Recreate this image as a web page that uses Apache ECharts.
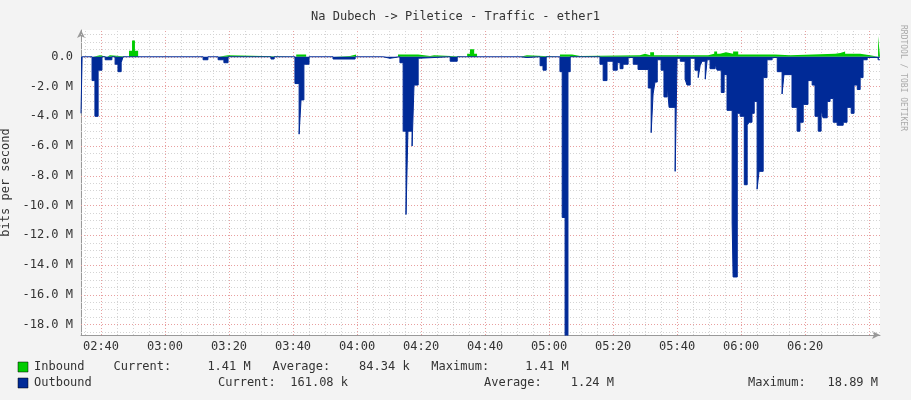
<!DOCTYPE html>
<html><head><meta charset="utf-8">
<script src="https://cdn.jsdelivr.net/npm/echarts@6/dist/echarts.min.js"></script>
<style>html,body{margin:0;padding:0;background:#f3f3f3}#c{width:911px;height:400px}</style>
</head><body><div id="c"></div>
<script>
// time in minutes since 00:00, value in Mbit/s; each point holds until the next
const outbound = [[153.75,-3.8],[154.1,0],[157.2,-1.6],[158.1,-4.0],[159.1,-0.9],[160.3,0],[161.3,-0.2],[163.4,0],[164.4,-0.5],[165.3,-1.0],[166.3,-0.4],[166.9,0],
[191.9,-0.2],[193.4,0],[196.6,-0.2],[198.4,-0.4],[199.7,0],[213.1,-0.15],[214.1,0],
[220.6,-1.8],[221.9,-5.2],[222.5,-2.9],[223.4,-0.5],[225.0,0],[232.5,-0.15],[239.4,0],[248.1,-0.1],[250.3,0],
[253.4,-0.4],[254.4,-5.0],[255.3,-10.6],[255.9,-5.0],[257.2,-6.0],[257.8,-1.9],[259.1,-0.1],[259.7,0],
[269.1,-0.3],[271.3,0],[290.9,-0.05],[293.1,0],[297.2,-0.6],[298.1,-0.9],[299.1,0],
[303.4,-1.0],[304.1,-10.8],[305.0,-18.8],[305.9,-1.0],[306.6,0],
[315.9,-0.5],[316.9,-1.6],[318.1,-0.3],[320.0,-0.9],[321.3,-0.4],[322.2,-0.8],[323.1,-0.5],[324.7,-0.05],[326.3,-0.5],[327.8,-0.85],
[331.0,-2.1],[331.9,-5.1],[332.5,-2.5],[333.1,-1.7],[333.8,-0.2],[335.0,-0.9],[335.9,-2.7],[336.9,-1.9],[337.5,-3.4],[339.4,-7.7],[340.0,-0.1],
[341.0,-0.3],[342.5,-1.5],[343.1,-1.9],[344.1,-0.1],[345.6,-0.9],[346.6,-1.4],[347.2,-0.6],[347.8,-0.3],[348.8,-1.5],[349.4,-0.2],[350.3,-0.8],
[351.9,-0.5],[352.5,-0.9],[353.8,-2.4],[354.7,-1.2],[355.6,-3.6],[357.2,-11.1],[357.5,-14.8],[358.8,-3.8],[359.7,-4.0],[361.0,-8.6],[361.9,-4.6],
[362.5,-4.4],[363.4,-3.8],[364.1,-3.0],[365.0,-8.9],[365.6,-7.7],[366.9,-1.4],[368.1,-0.2],[369.7,-0.05],[371.3,-1.0],[372.8,-2.5],[373.4,-1.2],
[375.9,-3.4],[377.5,-5.0],[378.4,-4.4],[379.4,-3.2],[380.9,-1.6],[382.2,-1.9],[383.1,-4.0],[384.1,-5.0],[385.0,-3.6],[385.6,-4.1],[386.9,-3.0],
[387.8,-2.8],[388.8,-4.4],[390.0,-4.6],[391.9,-4.4],[393.1,-3.4],[394.4,-3.8],[395.3,-1.9],[396.3,-2.2],[397.2,-1.4],[398.1,-0.2],[399.4,-0.05],
[402.8,-0.2],[403.4,-0.2]];
const inbound = [[153.75,0],[157.5,0.1],[159.7,0],[161.9,0.1],[162.8,0],[168.75,0.4],[169.7,1.1],[170.6,0.4],[171.6,0],
[196.6,0.1],[199.7,0],[221.0,0.15],[224.1,0],[232.8,0.05],[237.8,0.15],[239.7,0],[252.8,0.15],[259.1,0.05],[262.8,0.1],[264.1,0],
[274.4,0.2],[275.3,0.5],[276.6,0.2],[277.5,0],[279.7,0.05],[280.3,0],[290.9,0.1],[293.1,0],[303.4,0.15],[307.2,0.05],[309.7,0.1],
[328.4,0.2],[330.0,0.1],[331.6,0.3],[332.8,0.1],[349.7,0.2],[351.6,0.35],[352.5,0.2],[353.4,0.3],[355.3,0.2],[357.5,0.35],[359.1,0.15],
[370.6,0.1],[375.3,0.2],[389.4,0.25],[391.0,0.35],[392.5,0.2],[397.2,0.1],[400.3,0],[402.8,1.4],[403.4,1.4]];
const xTicks = [160,180,200,220,240,260,280,300,320,340,360,380];
const yTicks = [0,-2,-4,-6,-8,-10,-12,-14,-16,-18];
const xMin = 153.75, xMax = 403.4, yMin = -18.7, yMax = 1.8;

const mono = 'DejaVu Sans Mono';
function hm(m){const h=Math.floor(m/60),mm=Math.round(m%60);return String(h).padStart(2,'0')+':'+String(mm).padStart(2,'0');}
const gridLines = [];
for (let m=155; m<xMax; m+=5) gridLines.push({xAxis:m, lineStyle:{color: (m%20===0)?'#e8a0a0':'#d4d4d4'}});
for (let v=1.5; v>yMin; v-=0.5){ const maj = Math.abs(v/2-Math.round(v/2))<1e-9; gridLines.push({yAxis:v, lineStyle:{color: maj?'#e8a0a0':'#d4d4d4'}}); }

const chart = echarts.init(document.getElementById('c'));
chart.setOption({
  backgroundColor:'#f3f3f3',
  animation:false,
  title:{text:'Na Dubech -> Piletice - Traffic - ether1',left:'center',top:6,textStyle:{fontFamily:mono,fontSize:12,fontWeight:'normal',color:'#333'}},
  grid:{left:81,right:31,top:30,bottom:65,show:true,backgroundColor:'#fff',borderWidth:0,containLabel:false,outerBoundsMode:'none'},
  xAxis:{type:'value',min:xMin,max:xMax,
    axisLine:{onZero:false,lineStyle:{color:'#999'},symbol:['none','arrow'],symbolSize:[6,8]},
    axisTick:{show:false},splitLine:{show:false},
    axisLabel:{customValues:xTicks,formatter:v=>hm(v),fontFamily:mono,fontSize:12,color:'#333',margin:6}},
  yAxis:{type:'value',min:yMin,max:yMax,
    axisLine:{show:true,lineStyle:{color:'#999'},symbol:['none','arrow'],symbolSize:[6,8]},
    axisTick:{show:false},splitLine:{show:false},
    axisLabel:{customValues:yTicks,formatter:v=>v===0?'0.0':v.toFixed(1)+' M',fontFamily:mono,fontSize:12,color:'#333',margin:8},
    name:'bits per second',nameLocation:'middle',nameGap:62,nameRotate:90,nameTextStyle:{fontFamily:mono,fontSize:12,color:'#333'}},
  series:[
    {type:'line',data:[],z:1,silent:true,markLine:{silent:true,symbol:'none',label:{show:false},animation:false,lineStyle:{type:[1,2],width:1},data:gridLines}},
    {name:'Inbound',type:'line',step:'end',data:inbound,symbol:'none',zlevel:1,z:3,lineStyle:{width:0},areaStyle:{color:'#00cc00',opacity:1}},
    {name:'Outbound',type:'line',step:'end',data:outbound,symbol:'none',zlevel:1,z:4,lineStyle:{color:'#002a97',width:1},areaStyle:{color:'#002a97',opacity:1}}
  ],
  graphic:[
    {type:'text',x:903,y:78,rotation:-Math.PI/2,style:{text:'RRDTOOL / TOBI OETIKER',fontFamily:mono,fontSize:8,fill:'#aaa',align:'center',verticalAlign:'middle'}},
    {type:'rect',shape:{x:18,y:362,width:10,height:10},style:{fill:'#00cc00',stroke:'#000',lineWidth:0.5}},
    {type:'rect',shape:{x:18,y:378,width:10,height:10},style:{fill:'#002a97',stroke:'#000',lineWidth:0.5}},
    {type:'text',x:34,y:367,style:{text:'Inbound    Current:     1.41 M   Average:    84.34 k   Maximum:     1.41 M',fontFamily:mono,fontSize:12,fill:'#333',verticalAlign:'middle'}},
    {type:'text',x:34,y:383,style:{text:'Outbound',fontFamily:mono,fontSize:12,fill:'#333',verticalAlign:'middle'}},
    {type:'text',x:218,y:383,style:{text:'Current:  161.08 k',fontFamily:mono,fontSize:12,fill:'#333',verticalAlign:'middle'}},
    {type:'text',x:484,y:383,style:{text:'Average:    1.24 M',fontFamily:mono,fontSize:12,fill:'#333',verticalAlign:'middle'}},
    {type:'text',x:748,y:383,style:{text:'Maximum:   18.89 M',fontFamily:mono,fontSize:12,fill:'#333',verticalAlign:'middle'}}
  ]
});
</script></body></html>
